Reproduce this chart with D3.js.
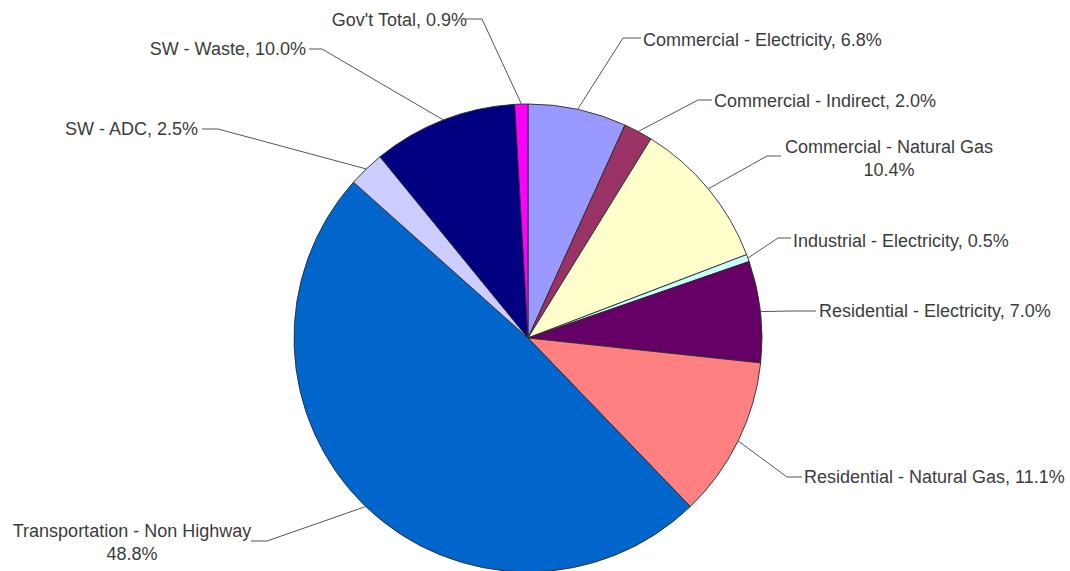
<!DOCTYPE html>
<html>
<head>
<meta charset="utf-8">
<script src="https://cdn.jsdelivr.net/npm/d3@7"></script>
<style>
  html, body { margin: 0; padding: 0; background: #fff; }
  svg { display: block; }
</style>
</head>
<body>
<svg id="chart" width="1070" height="571"></svg>
<script>
// ---- data ----
const categories = [
  "Commercial - Electricity",
  "Commercial - Indirect",
  "Commercial - Natural Gas",
  "Industrial - Electricity",
  "Residential - Electricity",
  "Residential - Natural Gas",
  "Transportation - Non Highway",
  "SW - ADC",
  "SW - Waste",
  "Gov't Total"
];
const values = [6.8, 2.0, 10.4, 0.5, 7.0, 11.1, 48.8, 2.5, 10.0, 0.9];
const labelTexts = [
  ["Commercial - Electricity, 6.8%"],
  ["Commercial - Indirect, 2.0%"],
  ["Commercial - Natural Gas", "10.4%"],
  ["Industrial - Electricity, 0.5%"],
  ["Residential - Electricity, 7.0%"],
  ["Residential - Natural Gas, 11.1%"],
  ["Transportation - Non Highway", "48.8%"],
  ["SW - ADC, 2.5%"],
  ["SW - Waste, 10.0%"],
  ["Gov't Total, 0.9%"]
];

// ---- styling / layout ----
const colors = ["#9999ff", "#993366", "#ffffcc", "#ccffff", "#660066",
                "#ff8080", "#0066cc", "#ccccff", "#000080", "#ff00ff"];
const cx = 528, cy = 338, radius = 234;
// leader-line elbow, line end, text anchor position & alignment
const labelLayout = [
  { elbow: [623, 38],  end: [641, 38],  tx: 643, ty: [46],      anchor: "start" },
  { elbow: [698, 100], end: [712, 100], tx: 714, ty: [107],     anchor: "start" },
  { elbow: [767, 156], end: [781, 156], tx: 889, ty: [153, 176], anchor: "middle" },
  { elbow: [778, 238], end: [791, 238], tx: 793, ty: [247],     anchor: "start" },
  { elbow: [790, 311], end: [816, 311], tx: 819, ty: [317],     anchor: "start" },
  { elbow: [787, 477], end: [802, 477], tx: 804, ty: [483],     anchor: "start" },
  { elbow: [267, 541], end: [251, 541], tx: 132, ty: [537, 560], anchor: "middle" },
  { elbow: [218, 129], end: [202, 129], tx: 198, ty: [135],     anchor: "end" },
  { elbow: [322, 49],  end: [309, 49],  tx: 306, ty: [55],      anchor: "end" },
  { elbow: [482, 19],  end: [466, 19],  tx: 467, ty: [26],      anchor: "end" }
];

const svg = d3.select("#chart");

const pie = d3.pie().sort(null).value(d => d.value);
const data = categories.map((c, i) => ({ name: c, value: values[i], idx: i }));
const arcs = pie(data);

const arc = d3.arc().innerRadius(0).outerRadius(radius);

const g = svg.append("g").attr("transform", `translate(${cx},${cy})`);

g.selectAll("path.slice")
  .data(arcs)
  .join("path")
  .attr("class", "slice")
  .attr("d", arc)
  .attr("fill", d => colors[d.data.idx])
  .attr("stroke", "#2a2a2a")
  .attr("stroke-width", 0.9)
  .attr("stroke-linejoin", "round");

// leader lines
const edgeArc = d3.arc().innerRadius(radius * 2).outerRadius(0);
svg.append("g").selectAll("polyline")
  .data(arcs)
  .join("polyline")
  .attr("points", d => {
    const mid = (d.startAngle + d.endAngle) / 2;
    const p0 = [cx + radius * Math.sin(mid), cy - radius * Math.cos(mid)];
    const L = labelLayout[d.data.idx];
    return [p0, L.elbow, L.end].map(p => p.join(",")).join(" ");
  })
  .attr("fill", "none")
  .attr("stroke", "#555")
  .attr("stroke-width", 1);

// labels
const labels = svg.append("g")
  .attr("font-family", "'Liberation Sans', Arial, sans-serif")
  .attr("font-size", 18)
  .attr("fill", "#3c3c3c");

arcs.forEach(d => {
  const L = labelLayout[d.data.idx];
  const lines = labelTexts[d.data.idx];
  const t = labels.append("text").attr("text-anchor", L.anchor);
  lines.forEach((line, k) => {
    t.append("tspan").attr("x", L.tx).attr("y", L.ty[k]).text(line);
  });
});
</script>
</body>
</html>
